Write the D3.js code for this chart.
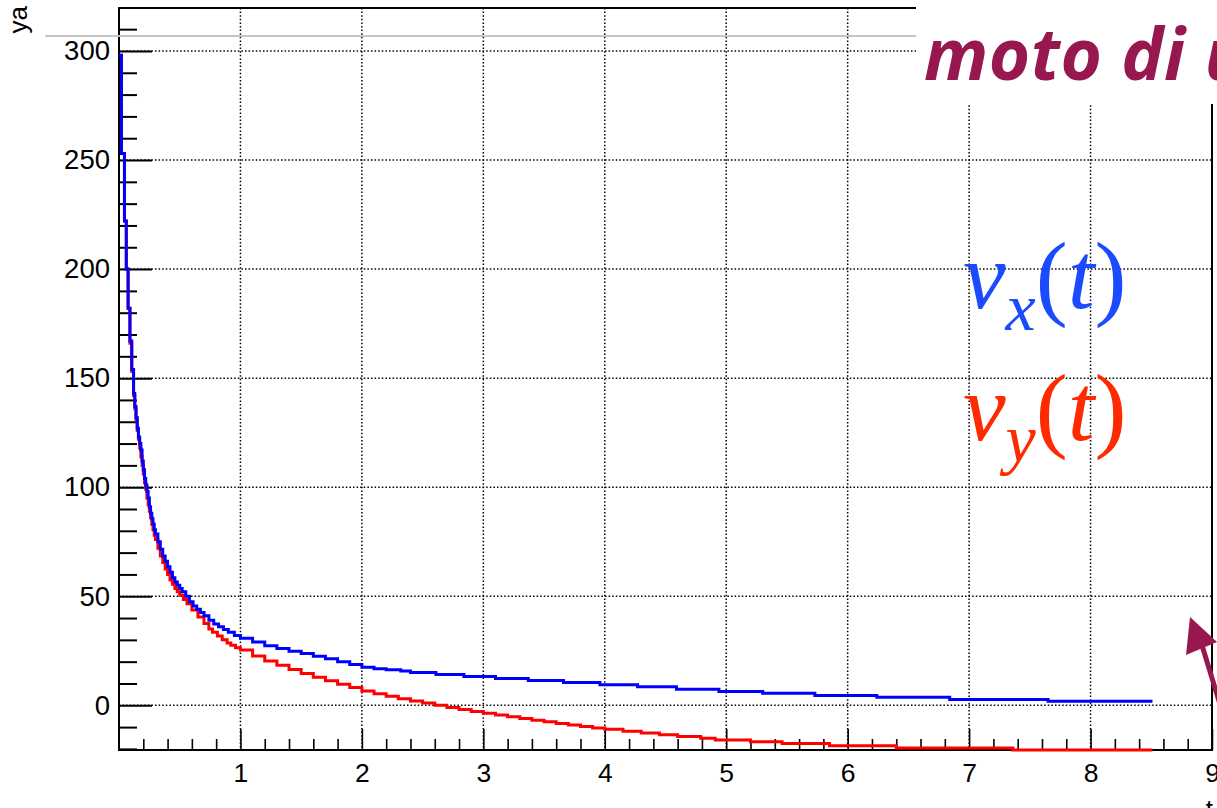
<!DOCTYPE html>
<html>
<head>
<meta charset="utf-8">
<script src="https://cdn.jsdelivr.net/npm/d3@7"></script>
<style>
  html, body { margin: 0; padding: 0; background: #fff; }
  svg { display: block; }
  .tick text { font-family: "Liberation Sans", Arial, Helvetica, sans-serif; fill: #000; }
</style>
</head>
<body>
<svg id="chart"></svg>
<script>
// histogram bin edges (t) and contents
const tBlue = [0, 0.02, 0.045, 0.06, 0.075, 0.09, 0.105, 0.12, 0.13, 0.14, 0.15, 0.16, 0.17, 0.18, 0.19, 0.2,
  0.21, 0.22, 0.23, 0.24, 0.25, 0.26, 0.27, 0.28, 0.29, 0.3, 0.32, 0.34, 0.36, 0.38, 0.40, 0.42, 0.44, 0.46, 0.48,
  0.5, 0.52, 0.55, 0.58, 0.61, 0.64, 0.67, 0.7, 0.74, 0.78, 0.82, 0.86, 0.9, 0.95, 1.0,
  1.1, 1.2, 1.3, 1.4, 1.5, 1.6, 1.7, 1.8, 1.9, 2.0, 2.1, 2.2, 2.32, 2.40, 2.61, 2.84, 3.10, 3.37, 3.66, 3.96,
  4.27, 4.59, 4.94, 5.30, 5.73, 6.24, 6.84, 7.65, 8.51];
const vBlue = [298, 253, 222, 200, 182, 167, 154, 143, 137, 132, 127, 123, 120, 117, 112, 108,
  104, 101, 98, 95, 91, 88, 85.5, 83, 80.5, 78.5, 75, 71.5, 68.5, 66, 63.5, 61, 58.5, 56.5, 55,
  53.5, 52, 50, 47.5, 45.5, 44, 42.5, 41, 39, 37.3, 36, 34.8, 33.5, 32, 30.7,
  29, 27.3, 26, 24.8, 23.7, 22.5, 21.3, 20.0, 18.7, 17.4, 16.8, 16.3, 15.7, 15.0, 14.1, 13.2, 12.3, 11.4, 10.4, 9.4,
  8.5, 7.4, 6.3, 5.5, 4.5, 3.7, 2.7, 1.8, 1.8];

const tRed = [0, 0.02, 0.045, 0.06, 0.075, 0.09, 0.105, 0.12, 0.13, 0.14, 0.15, 0.16, 0.17, 0.18, 0.19, 0.2,
  0.21, 0.22, 0.23, 0.24, 0.25, 0.26, 0.27, 0.28, 0.29, 0.3, 0.32, 0.34, 0.36, 0.38, 0.40, 0.42, 0.44, 0.46, 0.48,
  0.5, 0.53, 0.56, 0.6, 0.65, 0.7, 0.74, 0.77, 0.81, 0.85, 0.89, 0.92, 0.96, 1.0,
  1.1, 1.2, 1.3, 1.4, 1.5, 1.6, 1.7, 1.8, 1.9, 2.0, 2.1, 2.2, 2.3, 2.4, 2.5, 2.6, 2.7, 2.8, 2.9, 3.0,
  3.1, 3.2, 3.3, 3.4, 3.5, 3.6, 3.7, 3.8, 3.9, 4.0, 4.15, 4.3, 4.45, 4.6, 4.79, 4.91, 5.20, 5.46, 5.85, 6.40, 7.36, 8.51];
const vRed = [298, 253, 222, 200, 182, 166, 153, 142, 136, 131, 126, 122, 118, 114, 110, 106,
  102, 99, 95, 92, 89, 86, 83, 80.5, 78, 76, 72, 68.5, 65.5, 62.5, 60, 57.5, 55.5, 53.5, 52,
  50.5, 48.5, 46.5, 43.7, 40.5, 37.5, 35, 33.5, 31.8, 30, 28.6, 27.5, 26.4, 25.3,
  22.6, 20.3, 18.3, 16.4, 14.6, 12.9, 11.3, 9.7, 8.1, 6.6, 5.3, 4.1, 3.0, 2.0, 1.0, 0.0, -1.0, -1.9, -2.8, -3.7,
  -4.5, -5.3, -6.1, -6.9, -7.6, -8.3, -9.0, -9.7, -10.4, -11.0, -11.9, -12.7, -13.5, -14.3, -15.1, -15.9, -16.7, -17.5, -18.6, -19.6, -21, -21];

const xTicks = [1, 2, 3, 4, 5, 6, 7, 8, 9];
const yTicks = [0, 50, 100, 150, 200, 250, 300];

const W = 1217, H = 808;
const margin = { top: 8, right: 5, bottom: 58, left: 119 };

const svg = d3.select('#chart').attr('width', W).attr('height', H);

const x = d3.scaleLinear().domain([0, 9]).range([margin.left, W - margin.right]);
const y = d3.scaleLinear().domain([-20.5, 319.7]).range([H - margin.bottom, margin.top]).clamp(true);

// dotted grid
const grid = svg.append('g')
  .attr('stroke', '#000').attr('stroke-width', 1.5).attr('stroke-dasharray', '1.5 2.1');
grid.selectAll('.gx').data(xTicks.slice(0, -1)).join('line')
  .attr('x1', d => x(d)).attr('x2', d => x(d))
  .attr('y1', y.range()[1]).attr('y2', y.range()[0]);
grid.selectAll('.gy').data(yTicks).join('line')
  .attr('x1', x.range()[0]).attr('x2', x.range()[1])
  .attr('y1', d => y(d)).attr('y2', d => y(d));

// minor ticks
const yMinor = d3.range(-20, 320, 10).filter(d => d % 50 !== 0);
const xMinor = d3.range(0.2, 9, 0.2).filter(d => Math.abs(d - Math.round(d)) > 1e-6);

svg.append('g')
  .attr('transform', `translate(${margin.left},0)`)
  .call(d3.axisLeft(y).tickValues(yMinor).tickSize(-18).tickSizeOuter(0).tickFormat(''))
  .call(g => g.select('.domain').remove())
  .selectAll('line').attr('stroke-width', 2);

svg.append('g')
  .attr('transform', `translate(${margin.left},0)`)
  .call(d3.axisLeft(y).tickValues(yTicks).tickSize(-33).tickSizeOuter(0).tickPadding(9))
  .call(g => g.select('.domain').remove())
  .call(g => g.selectAll('line').attr('stroke-width', 2))
  .call(g => g.selectAll('text').attr('font-size', 27.5));

svg.append('g')
  .attr('transform', `translate(0,${H - margin.bottom})`)
  .call(d3.axisBottom(x).tickValues(xMinor).tickSize(-11).tickSizeOuter(0).tickFormat(''))
  .call(g => g.select('.domain').remove())
  .selectAll('line').attr('stroke-width', 1.6);

svg.append('g')
  .attr('transform', `translate(0,${H - margin.bottom})`)
  .call(d3.axisBottom(x).tickValues(xTicks).tickSize(-21).tickSizeOuter(0).tickPadding(13))
  .call(g => g.select('.domain').remove())
  .call(g => g.selectAll('line').attr('stroke-width', 1.6))
  .call(g => g.selectAll('text').attr('font-size', 26.5));

// frame
svg.append('rect')
  .attr('x', x.range()[0]).attr('y', y.range()[1])
  .attr('width', x.range()[1] - x.range()[0]).attr('height', y.range()[0] - y.range()[1])
  .attr('fill', 'none').attr('stroke', '#000').attr('stroke-width', 2);

// step curves
const line = d3.line().curve(d3.curveStepAfter).x(d => x(d[0])).y(d => y(d[1]));
svg.append('path').datum(d3.zip(tRed, vRed))
  .attr('d', line).attr('fill', 'none').attr('stroke', '#ff0000').attr('stroke-width', 3);
svg.append('path').datum(d3.zip(tBlue, vBlue))
  .attr('d', line).attr('fill', 'none').attr('stroke', '#0000ff').attr('stroke-width', 3);

// axis titles
svg.append('text')
  .attr('transform', 'translate(27,6) rotate(-90)')
  .attr('text-anchor', 'end')
  .attr('font-family', '"Liberation Sans", Arial, sans-serif').attr('font-size', 26)
  .text('ya');
svg.append('text')
  .attr('x', 1213).attr('y', 818).attr('text-anchor', 'end')
  .attr('font-family', '"Liberation Sans", Arial, sans-serif').attr('font-size', 26)
  .text('t');

// slide overlay: grey rule, title box, title, arrow
svg.append('line')
  .attr('x1', 45).attr('x2', 916).attr('y1', 36).attr('y2', 36)
  .attr('stroke', '#c4c4c4').attr('stroke-width', 2);

svg.append('rect').attr('x', 916).attr('y', 0).attr('width', W - 916).attr('height', 104).attr('fill', '#fff');

svg.append('text')
  .attr('x', 924).attr('y', 80)
  .attr('font-family', '"Open Sans", sans-serif').attr('font-weight', 700).attr('font-style', 'italic')
  .attr('font-size', 71).attr('letter-spacing', 0.5).attr('fill', '#97174f')
  .text('moto di u');

const purple = '#97174f';
svg.append('line')
  .attr('x1', 1226).attr('y1', 724).attr('x2', 1201).attr('y2', 642)
  .attr('stroke', purple).attr('stroke-width', 5);
svg.append('path')
  .attr('d', 'M1190,617 L1186,655 L1217,642 Z')
  .attr('fill', purple);

// legend labels
function label(yPos, sub, color) {
  const t = svg.append('text')
    .attr('x', 963).attr('y', yPos)
    .attr('font-family', '"Liberation Serif", "Times New Roman", serif')
    .attr('font-size', 96).attr('fill', color);
  t.append('tspan').attr('font-style', 'italic').text('v');
  t.append('tspan').attr('font-style', 'italic').attr('font-size', 68).attr('dy', 22).text(sub);
  t.append('tspan').attr('dy', -22).text('(');
  t.append('tspan').attr('font-style', 'italic').text('t');
  t.append('tspan').text(')');
}
label(308, 'x', '#1a4bff');
label(440, 'y', '#ff2a00');
</script>
</body>
</html>
